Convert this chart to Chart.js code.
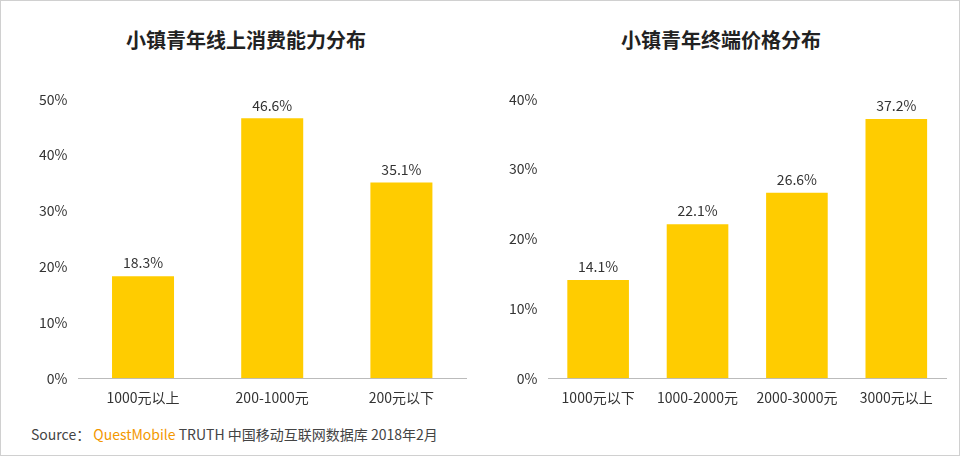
<!DOCTYPE html>
<html><head><meta charset="utf-8">
<script src="https://cdn.jsdelivr.net/npm/chart.js@4"></script>
<style>
body{margin:0;background:#fff;font-family:"Noto Sans CJK SC",sans-serif;}
#wrap{position:relative;width:958px;height:454px;border:1px solid #d0d0d0;}
.title{position:absolute;top:24px;font-size:20px;font-weight:bold;color:#222;text-align:center;width:400px;}
.box{position:absolute;top:87px;height:321px;}
#src{position:absolute;left:30px;top:423px;font-size:14px;color:#444;}
#src b{color:#f39800;font-weight:normal;}
</style></head><body>
<div id="wrap">
<div class="title" style="left:45px">小镇青年线上消费能力分布</div>
<div class="title" style="left:520px">小镇青年终端价格分布</div>
<div class="box" style="left:35px;width:440px"><canvas id="c1"></canvas></div>
<div class="box" style="left:505px;width:450px"><canvas id="c2"></canvas></div>
<div id="src">Source： <b>QuestMobile</b> TRUTH 中国移动互联网数据库 2018年2月</div>
</div>
<script>
// ─── DATA ───
const spendCats = ["1000元以上", "200-1000元", "200元以下"];
const spendVals = [18.3, 46.6, 35.1];
const priceCats = ["1000元以下", "1000-2000元", "2000-3000元", "3000元以上"];
const priceVals = [14.1, 22.1, 26.6, 37.2];

const YELLOW = "#FFCC00";
Chart.defaults.font.family = "'Noto Sans CJK SC', sans-serif";
Chart.defaults.color = "#444";

const valueLabels = {
  id: "valueLabels",
  afterDatasetsDraw(chart) {
    const ctx = chart.ctx;
    ctx.save();
    ctx.font = "14px 'Noto Sans CJK SC', sans-serif";
    ctx.fillStyle = "#333";
    ctx.textAlign = "center";
    ctx.textBaseline = "bottom";
    chart.getDatasetMeta(0).data.forEach((bar, i) => {
      ctx.fillText(chart.data.datasets[0].data[i].toFixed(1) + "%", bar.x, bar.y - 6);
    });
    ctx.restore();
  },
};

function makeChart(id, labels, data, max, pct) {
  new Chart(document.getElementById(id), {
    type: "bar",
    data: { labels, datasets: [{ data, backgroundColor: YELLOW, categoryPercentage: pct, barPercentage: 1 }] },
    options: {
      responsive: true, maintainAspectRatio: false, animation: false,
      plugins: { legend: { display: false }, tooltip: { enabled: false } },
      layout: { padding: { top: 10, right: 10 } },
      scales: {
        x: { grid: { display: false }, border: { color: "#bbb" }, ticks: { font: { size: 14 }, color: "#333" } },
        y: { min: 0, max, ticks: { stepSize: 10, font: { size: 14 }, color: "#333", callback: v => v + "%" },
             grid: { display: false }, border: { display: false } },
      },
    },
    plugins: [valueLabels],
  });
}

makeChart("c1", spendCats, spendVals, 50, 0.48);
makeChart("c2", priceCats, priceVals, 40, 0.62);
</script>
</body></html>
